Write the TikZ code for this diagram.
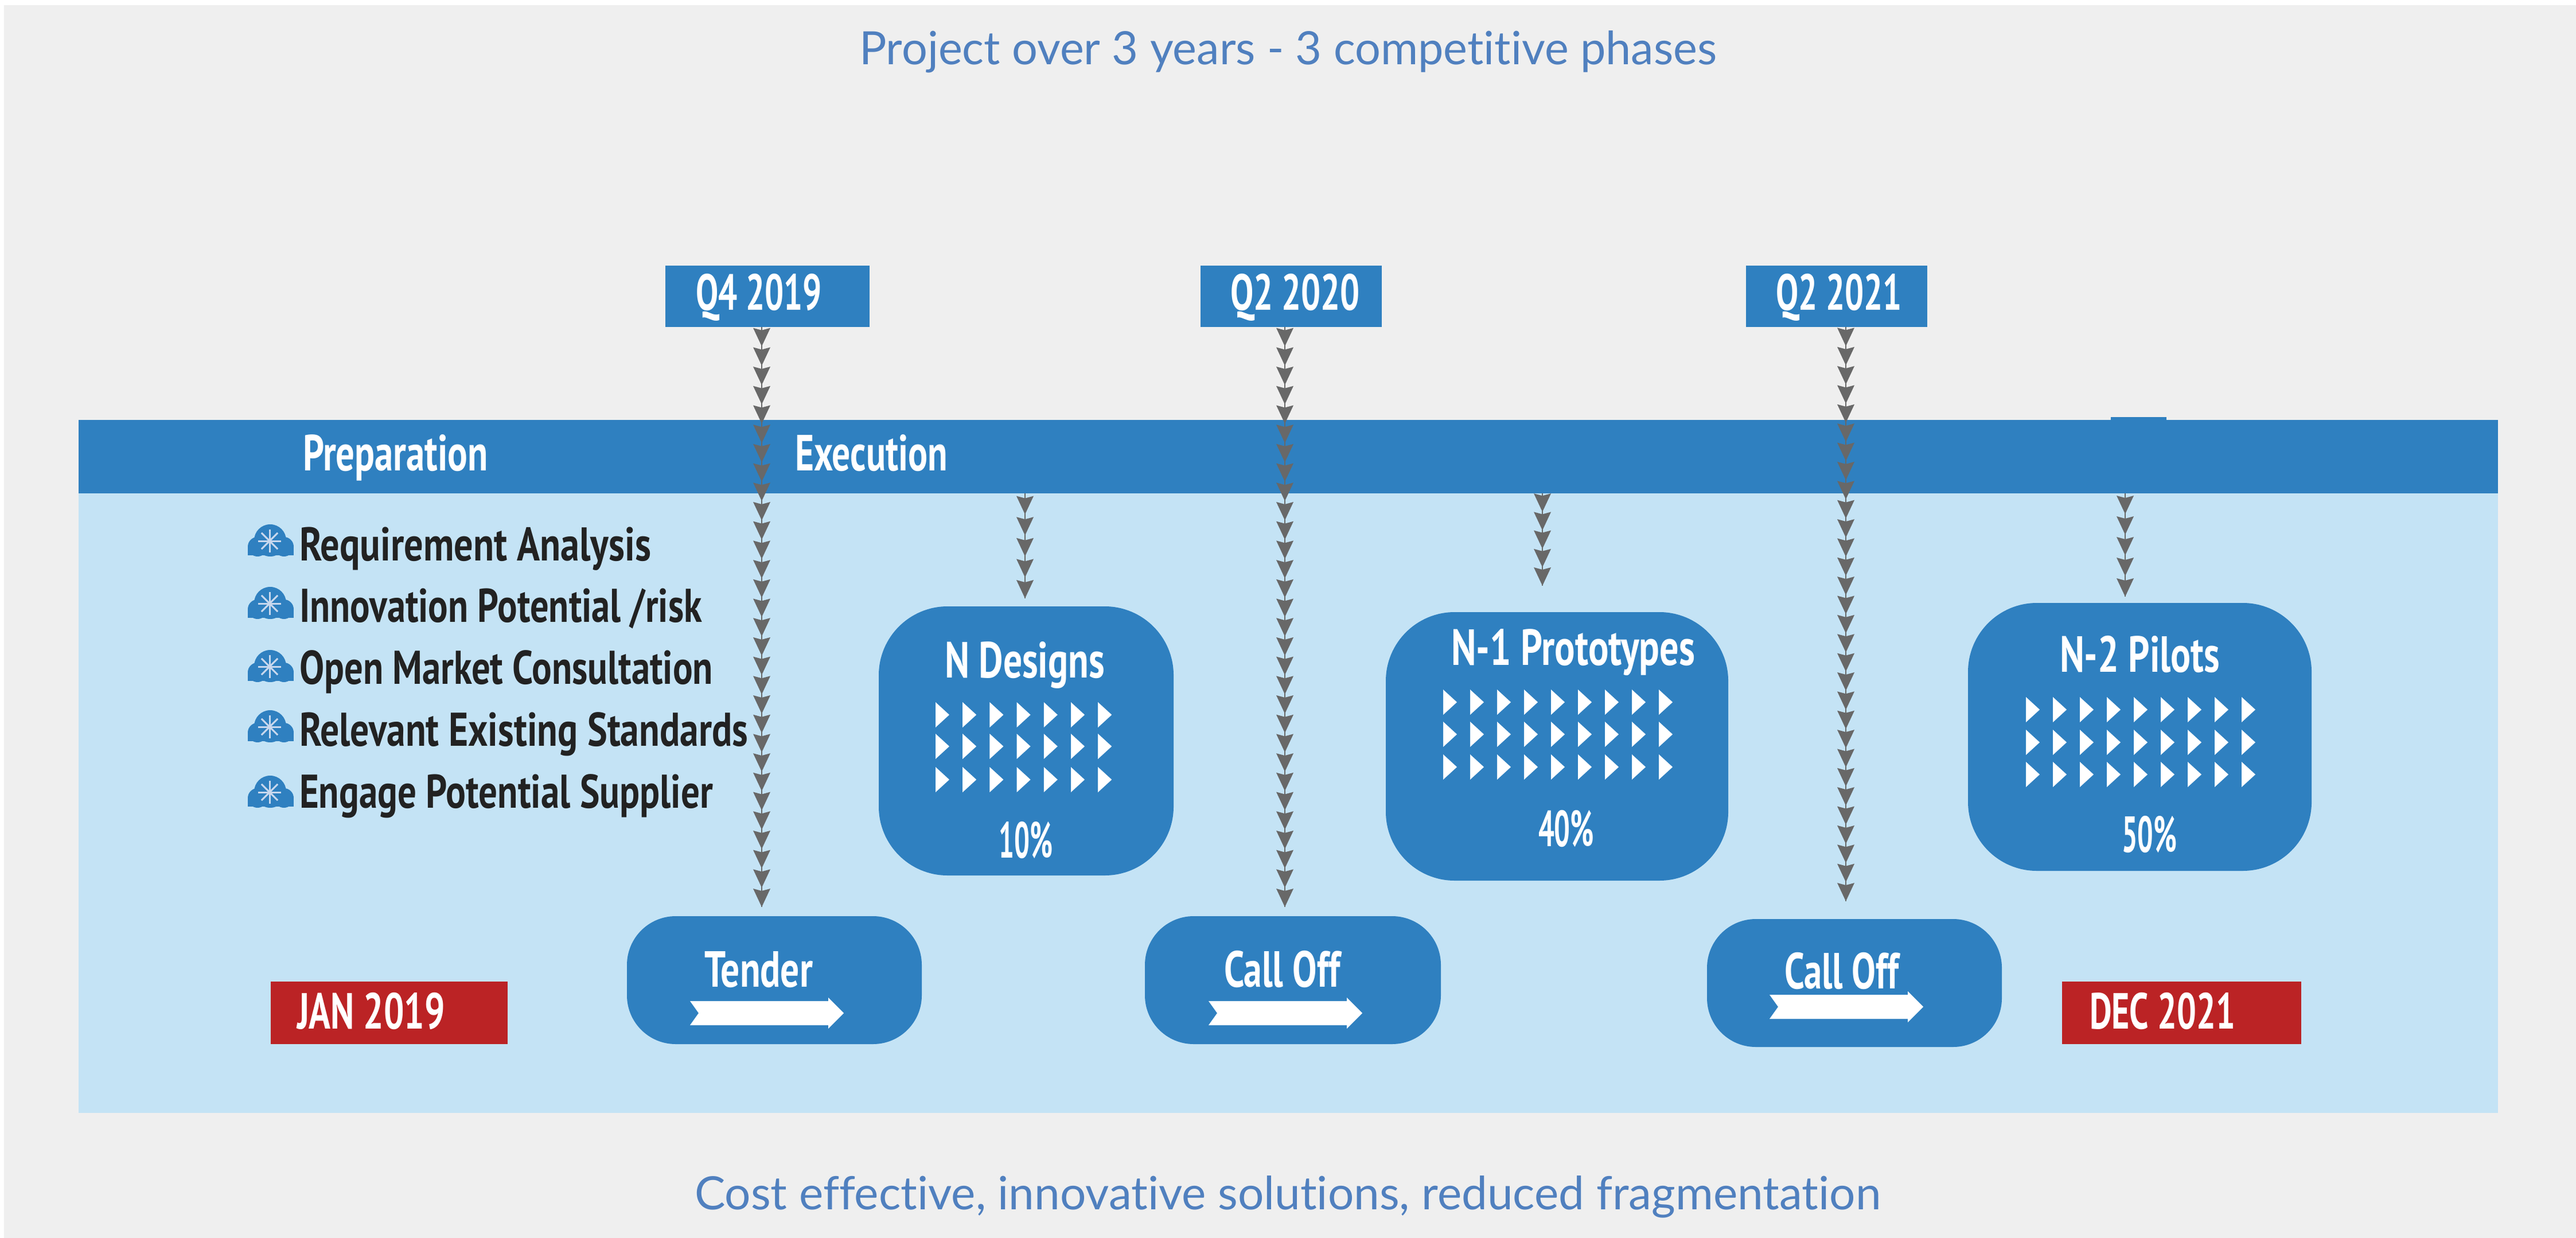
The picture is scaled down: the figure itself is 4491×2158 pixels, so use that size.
\documentclass[tikz,border=0pt]{standalone}
\usepackage{fontspec}
\usepackage{graphicx}
\setmainfont{PT Sans}
\newfontfamily\latofont[Ligatures=NoCommon]{Lato}
\usetikzlibrary{calc}
\definecolor{pagebg}{HTML}{EFEFEF}
\definecolor{panel}{HTML}{C4E3F5}
\definecolor{bandblue}{HTML}{2F80C0}
\definecolor{redbox}{HTML}{BB2325}
\definecolor{titleblue}{HTML}{5080BF}
\definecolor{chevgray}{HTML}{686868}
\definecolor{listink}{HTML}{222222}
\definecolor{flake}{HTML}{C8D8EE}
\tikzset{
  x=.2pt,y=-.2pt,
  flatbox/.style={rectangle,draw=none,inner sep=0pt,outer sep=0pt},
  bluebox/.style={flatbox,fill=bandblue},
  redlabel/.style={flatbox,fill=redbox},
  panelbox/.style={flatbox,fill=panel},
  bigbox/.style={bluebox,rounded corners=24pt},
  smallbox/.style={bluebox,rounded corners=17pt},
  textbase/.style={anchor=base west,inner sep=0pt,outer sep=0pt},
  whitetext/.style={textbase,text=white,font=\bfseries\fontsize{17.7}{18}\selectfont},
  listtext/.style={textbase,text=listink,font=\bfseries\fontsize{16.5}{17}\selectfont},
  titletext/.style={textbase,text=titleblue,font=\latofont\fontsize{16}{18}\selectfont},
  chevline/.style={draw=chevgray,line width=.5pt},
  chevhead/.style={fill=chevgray,draw=none},
  tri/.style={fill=white,draw=none},
}
% style, name, x1, y1, x2, y2
\newcommand\rbox[6]{\node[#1,minimum width={(#5-#3)*.2pt},minimum height={(#6-#4)*.2pt}] (#2) at ({(#3+#5)/2},{(#4+#6)/2}) {};}
% style, name, x, baseline, width, text
\newcommand\lbl[6]{\node[#1] (#2) at (#3,#4) {\pgfmathsetlengthmacro\lblw{#5*.2pt}\resizebox{\lblw}{\height}{#6}};}
% from, to, number of heads
\newcommand\chevs[3]{\draw[chevline] (#1) -- (#2);
  \foreach \i in {1,...,#3} {\fill[chevhead] ($(#1)!{\i/#3}!(#2)$) -- ++(-3pt,6.4pt) -- ++(3pt,-.8pt) -- ++(3pt,.8pt) -- cycle;}}
% x of first triangle, row centres
\newcommand\tris[6]{\foreach \c in {1,...,#2} {\foreach \r in {#3,#4,#5} {
   \fill[tri] ({#1+(\c-1)*#6},{\r-22}) -- ({#1+(\c-1)*#6+24},\r) -- ({#1+(\c-1)*#6},{\r+22}) -- cycle;}}}
\newcommand\whitearrow[2]{\fill[white] (#1,#2) ++(0,-21) -- ++(241,0) -- ++(0,-6) -- ++(27,27) -- ++(-27,27) -- ++(0,-6) -- ++(-241,0) -- ++(15,-21) -- cycle;}
\newcommand\cloudicon[1]{
  \fill[bandblue] (471,{#1-28}) circle[radius=28];
  \fill[bandblue] (449,{#1-17}) circle[radius=17];
  \fill[bandblue] (495,{#1-17}) circle[radius=17];
  \fill[bandblue] (432,{#1-15}) -- (512,{#1-15}) -- (512,{#1-2}) -- (432,{#1-2}) -- cycle;
  \foreach \a in {0,45,90,135} {\draw[flake,line width=.6pt] ($(470,{#1-27})+(\a:4pt)$) -- ($(470,{#1-27})+(\a+180:4pt)$);}
}
\begin{document}
\begin{tikzpicture}
\useasboundingbox (0,0) rectangle (4491,2158);
\fill[white] (0,0) rectangle (4491,2158);
\fill[pagebg] (7,9) rectangle (4491,2158);

\lbl{titletext}{title}{1498}{113}{1495}{Project over 3 years - 3 competitive phases}
\lbl{titletext}{footer}{1211}{2108}{2068}{Cost effective, innovative solutions, reduced fragmentation}

\rbox{panelbox}{panel}{137}{860}{4355}{1940}
\rbox{bluebox}{bump}{3680}{727}{3777}{740}
\rbox{bluebox}{band}{137}{732}{4355}{860}

\rbox{bluebox}{q1}{1160}{463}{1516}{570}
\rbox{bluebox}{q2}{2093}{463}{2409}{570}
\rbox{bluebox}{q3}{3044}{463}{3360}{570}
\lbl{whitetext}{q1t}{1213}{540}{220}{Q4 2019}
\lbl{whitetext}{q2t}{2145}{540}{226}{Q2 2020}
\lbl{whitetext}{q3t}{3096}{540}{220}{Q2 2021}

\lbl{whitetext}{prep}{528}{820}{323}{Preparation}
\lbl{whitetext}{exec}{1386}{820}{266}{Execution}

\coordinate (s1) at (1328,570); \coordinate (e1) at (1328,1581);
\coordinate (s2) at (2240,570); \coordinate (e2) at (2240,1581);
\coordinate (s3) at (3218,570); \coordinate (e3) at (3218,1571);
\coordinate (s4) at (1787,860); \coordinate (e4) at (1787,1043);
\coordinate (s5) at (2689,860); \coordinate (e5) at (2689,1021);
\coordinate (s6) at (3705,860); \coordinate (e6) at (3705,1040);
\chevs{s1}{e1}{30}
\chevs{s2}{e2}{30}
\chevs{s3}{e3}{30}
\chevs{s4}{e4}{5}
\chevs{s5}{e5}{5}
\chevs{s6}{e6}{5}

\foreach \b in {970,1079,1189,1294,1408} {\cloudicon{\b}}
\lbl{listtext}{l1}{522}{977}{613}{Requirement Analysis}
\lbl{listtext}{l2}{522}{1084}{702}{Innovation Potential /risk}
\lbl{listtext}{l3}{522}{1192}{721}{Open Market Consultation}
\lbl{listtext}{l4}{522}{1300}{782}{Relevant Existing Standards}
\lbl{listtext}{l5}{522}{1408}{721}{Engage Potential Supplier}

\rbox{bigbox}{designs}{1532}{1057}{2046}{1526}
\rbox{bigbox}{protos}{2416}{1067}{3013}{1535}
\rbox{bigbox}{pilots}{3431}{1051}{4030}{1518}
\lbl{whitetext}{designst}{1647}{1181}{279}{N Designs}
\lbl{whitetext}{protost}{2530}{1159}{425}{N-1 Prototypes}
\lbl{whitetext}{pilotst}{3591}{1171}{279}{N-2 Pilots}
\tris{1631}{7}{1246}{1301}{1359}{47.2}
\tris{2516}{9}{1224}{1280}{1337}{47}
\tris{3532}{9}{1237}{1294}{1350}{47}
\lbl{whitetext}{p10}{1741}{1495}{94}{10\%}
\lbl{whitetext}{p40}{2682}{1475}{97}{40\%}
\lbl{whitetext}{p50}{3699}{1485}{96}{50\%}

\rbox{smallbox}{tender}{1093}{1597}{1607}{1820}
\rbox{smallbox}{calla}{1996}{1597}{2512}{1820}
\rbox{smallbox}{callb}{2976}{1602}{3490}{1825}
\lbl{whitetext}{tendert}{1228}{1720}{189}{Tender}
\lbl{whitetext}{callat}{2134}{1720}{203}{Call Off}
\lbl{whitetext}{callbt}{3111}{1723}{200}{Call Off}
\whitearrow{1203}{1766}
\whitearrow{2107}{1766}
\whitearrow{3085}{1755}

\rbox{redlabel}{jan}{472}{1711}{885}{1820}
\rbox{redlabel}{dec}{3595}{1711}{4012}{1820}
\lbl{whitetext}{jant}{518}{1793}{258}{JAN 2019}
\lbl{whitetext}{dect}{3643}{1793}{254}{DEC 2021}
\end{tikzpicture}
\end{document}
